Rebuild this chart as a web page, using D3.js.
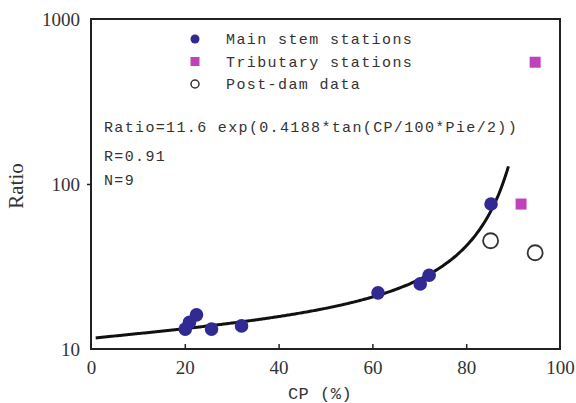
<!DOCTYPE html>
<html>
<head>
<meta charset="utf-8">
<script src="https://cdn.jsdelivr.net/npm/d3@7"></script>
<style>
  body { margin: 0; background: #fff; }
  .tick text { font-family: "Liberation Serif", serif; font-size: 19px; fill: #333; }
  .mono { font-family: "Liberation Mono", monospace; fill: #333; }
</style>
</head>
<body>
<div id="chart"></div>
<script>
// main stem stations: CP (%) and Ratio
var mainCP    = [20.1, 21.0, 22.5, 25.7, 32.1, 61.2, 70.2, 72.1, 85.3];
var mainRatio = [13.2, 14.5, 16.1, 13.2, 13.8, 21.9, 24.8, 28.0, 75.6];
// tributary stations
var tribCP    = [91.7, 94.7];
var tribRatio = [75.6, 547];
// post-dam data
var postCP    = [85.2, 94.7];
var postRatio = [45.3, 38.3];

var xTicks = [0, 20, 40, 60, 80, 100];
var yTicks = [10, 100, 1000];

// fitted curve, as written on the chart
var fitA = 11.6, fitB = 0.4188;
var fitFrom = 1, fitTo = 89;

var legendLabels = ['Main stem stations', 'Tributary stations', 'Post-dam data'];
var noteLines = ['Ratio=11.6 exp(0.4188*tan(CP/100*Pie/2))', 'R=0.91', 'N=9'];

var width = 576, height = 403;
var plotLeft = 91, plotRight = 560, plotTop = 19, plotBottom = 349;

var blue = '#302a92', pink = '#c042b8', ink = '#222';

var svg = d3.select('#chart').append('svg')
  .attr('width', width)
  .attr('height', height);

var x = d3.scaleLinear().domain([0, 100]).range([plotLeft, plotRight]);
var y = d3.scaleLog().domain([10, 1000]).range([plotBottom, plotTop]);

// axes
var xAxis = d3.axisBottom(x)
  .tickValues(xTicks)
  .tickFormat(d3.format('d'))
  .tickSizeInner(-5)
  .tickSizeOuter(0)
  .tickPadding(12);

var yAxis = d3.axisLeft(y)
  .tickValues(yTicks)
  .tickFormat(d3.format('d'))
  .tickSizeInner(4)
  .tickSizeOuter(0)
  .tickPadding(7);

var gx = svg.append('g').attr('transform', 'translate(0,' + plotBottom + ')').call(xAxis);
var gy = svg.append('g').attr('transform', 'translate(' + plotLeft + ',0)').call(yAxis);
gx.select('.domain').remove();
gy.select('.domain').remove();
svg.selectAll('.tick line').attr('stroke', ink).attr('stroke-width', 1.5);
// ticks at the corners are hidden by the frame
gx.selectAll('.tick line').filter(function(d) { return d == 0 || d == 100 }).remove();
gy.selectAll('.tick line').filter(function(d) { return d == 10 || d == 1000 }).remove();

// frame
svg.append('rect')
  .attr('x', plotLeft).attr('y', plotTop)
  .attr('width', plotRight - plotLeft).attr('height', plotBottom - plotTop)
  .attr('fill', 'none')
  .attr('stroke', ink)
  .attr('stroke-width', 2);

// axis titles
svg.append('text')
  .attr('transform', 'translate(23,186) rotate(-90)')
  .attr('text-anchor', 'middle')
  .style('font-family', '"Liberation Serif", serif')
  .style('font-size', '21px')
  .style('fill', '#333')
  .text('Ratio');

svg.append('text')
  .attr('class', 'mono')
  .attr('x', 320).attr('y', 399)
  .attr('text-anchor', 'middle')
  .style('font-size', '17px')
  .style('letter-spacing', '0.5px')
  .text('CP (%)');

// fit curve
var curveCP = d3.range(fitFrom, fitTo + 0.01, 0.5);
var line = d3.line()
  .x(function(d) { return x(d) })
  .y(function(d) { return y(fitA * Math.exp(fitB * Math.tan(d / 100 * Math.PI / 2))) })
  .curve(d3.curveMonotoneX);

svg.append('path')
  .datum(curveCP)
  .attr('d', line)
  .attr('fill', 'none')
  .attr('stroke', '#111')
  .attr('stroke-width', 3);

// points
svg.selectAll('.main')
  .data(mainCP)
  .enter()
  .append('circle')
  .attr('class', 'main')
  .attr('cx', function(d) { return x(d) })
  .attr('cy', function(d, i) { return y(mainRatio[i]) })
  .attr('r', 6.8)
  .attr('fill', blue);

svg.selectAll('.trib')
  .data(tribCP)
  .enter()
  .append('rect')
  .attr('class', 'trib')
  .attr('x', function(d) { return x(d) - 5.5 })
  .attr('y', function(d, i) { return y(tribRatio[i]) - 5.5 })
  .attr('width', 11).attr('height', 11)
  .attr('fill', pink);

svg.selectAll('.post')
  .data(postCP)
  .enter()
  .append('circle')
  .attr('class', 'post')
  .attr('cx', function(d) { return x(d) })
  .attr('cy', function(d, i) { return y(postRatio[i]) })
  .attr('r', 7.5)
  .attr('fill', 'none')
  .attr('stroke', '#333')
  .attr('stroke-width', 1.8);

// legend
var legendX = 195, legendY = 39, legendStep = 22.5;
svg.append('circle').attr('cx', legendX).attr('cy', legendY).attr('r', 4.5).attr('fill', blue);
svg.append('rect').attr('x', legendX - 4.5).attr('y', legendY + legendStep - 4.5)
  .attr('width', 9).attr('height', 9).attr('fill', pink);
svg.append('circle').attr('cx', legendX).attr('cy', legendY + 2 * legendStep).attr('r', 4)
  .attr('fill', 'none').attr('stroke', '#333').attr('stroke-width', 1.5);

svg.selectAll('.leg')
  .data(legendLabels)
  .enter()
  .append('text')
  .attr('class', 'mono leg')
  .attr('x', 226)
  .attr('y', function(d, i) { return legendY + i * legendStep + 5 })
  .style('font-size', '15px')
  .style('letter-spacing', '1.4px')
  .text(function(d) { return d });

// equation and stats
var noteY = [132, 161, 185];
svg.selectAll('.note')
  .data(noteLines)
  .enter()
  .append('text')
  .attr('class', 'mono note')
  .attr('x', 104)
  .attr('y', function(d, i) { return noteY[i] })
  .style('font-size', '15px')
  .style('letter-spacing', '1.35px')
  .text(function(d) { return d });
</script>
</body>
</html>
